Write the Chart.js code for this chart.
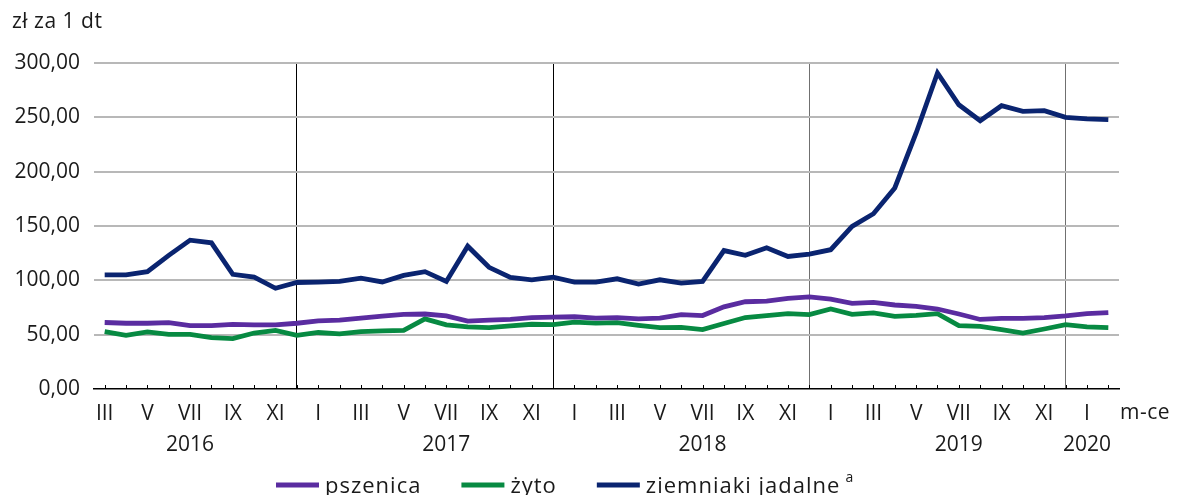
<!DOCTYPE html>
<html>
<head>
<meta charset="utf-8">
<script src="https://cdn.jsdelivr.net/npm/chart.js@4.4.1/dist/chart.umd.min.js"></script>
<style>
  body { margin: 0; background: #fff; }
  #wrap { width: 1178px; height: 495px; position: relative; }
</style>
</head>
<body>
<div id="wrap"><canvas id="myLineChart"></canvas></div>
<script>
// months III 2016 - II 2020, only odd months are labelled
var monthLabels = [
  'III','','V','','VII','','IX','','XI','',
  'I','','III','','V','','VII','','IX','','XI','',
  'I','','III','','V','','VII','','IX','','XI','',
  'I','','III','','V','','VII','','IX','','XI','',
  'I',''
];
var yearLabels = ['2016','2017','2018','2019','2020'];
var yearAt = [4, 16, 28, 40, 46];

var seriesNames = ['pszenica', 'żyto', 'ziemniaki jadalne'];
var footnoteMark = 'a';

var pszenica = [
  61.2, 60.5, 60.5, 61, 58.4, 58.4, 59.4, 59, 59, 60.5,
  62.7, 63.3, 65.2, 67, 68.6, 69, 67.3, 62.4, 63.3, 64, 65.6, 66.2,
  66.5, 65.2, 65.6, 64.6, 65.2, 68.4, 67.6, 75.6, 80.3, 80.9, 83.4, 84.7,
  82.8, 78.8, 79.7, 77.3, 76, 73.6, 69, 64, 65, 65, 65.6, 67.2,
  69.3, 70.2
];
var zyto = [
  52.8, 49.4, 52.5, 50.3, 50.3, 47.2, 46.3, 51.5, 54, 49.4,
  52, 50.8, 52.8, 53.4, 54, 64.5, 59, 57.1, 56.5, 58, 59.6, 59.3,
  61.5, 60.6, 61, 58.6, 56.5, 56.8, 54.6, 60.3, 65.8, 67.6, 69.3, 68.4,
  73.6, 68.7, 70, 66.8, 67.8, 69.3, 58.3, 57.6, 54.6, 51.5, 55.2, 59.2,
  57.1, 56.5
];
var ziemniaki = [
  105, 105, 108, 123, 137, 134.5, 105.5, 103, 92.7, 98,
  98.3, 99, 102, 98.5, 104.5, 108, 99, 131.4, 112, 102.6, 100.5, 103,
  98.3, 98.3, 101.4, 96.5, 100.5, 97.4, 99, 127.4, 123, 130, 122, 124.2,
  128.2, 149.7, 161.3, 185, 235.6, 290.8, 261.6, 246.9, 260.7, 255.5, 256.1, 250,
  248.5, 247.8
];

var colors = ['#5a2ca0', '#078a42', '#0a2470'];
var fontFamily = "'Open Sans', 'Noto Sans', sans-serif";
var fontSize = 21;

var labels = monthLabels.map(function (m, i) {
  var k = yearAt.indexOf(i);
  return k >= 0 ? [m, yearLabels[k]] : m;
});

var extras = {
  id: 'extras',
  afterDraw: function (chart) {
    var ctx = chart.ctx;
    var x = chart.scales.x;
    var area = chart.chartArea;
    ctx.save();
    // small tick marks on the axis, pointing up
    ctx.strokeStyle = '#000';
    ctx.lineWidth = 1;
    for (var i = 0; i < monthLabels.length; i++) {
      var px = Math.round(x.getPixelForValue(i)) + 0.5;
      ctx.beginPath();
      ctx.moveTo(px, area.bottom - 4);
      ctx.lineTo(px, area.bottom);
      ctx.stroke();
    }
    ctx.fillStyle = '#1a1a1a';
    ctx.textBaseline = 'middle';
    ctx.textAlign = 'left';
    ctx.font = fontSize + 'px ' + fontFamily;
    ctx.letterSpacing = '0.5px';
    ctx.fillText('zł za 1 dt', 12, 22);
    ctx.fillText('m-ce', 1120, 413);

    // legend
    var lx = 276, ly = 485;
    chart.data.datasets.forEach(function (ds, j) {
      ctx.fillStyle = ds.borderColor;
      ctx.fillRect(lx, ly - 2.5, 43, 5);
      lx += 49;
      ctx.fillStyle = '#1a1a1a';
      ctx.font = '22px ' + fontFamily;
      ctx.letterSpacing = '1px';
      ctx.fillText(ds.label, lx, ly + 2);
      lx += ctx.measureText(ds.label).width;
      if (j === 2) {
        ctx.font = '14px ' + fontFamily;
        ctx.letterSpacing = '0px';
        ctx.fillText(footnoteMark, lx + 5, ly - 7);
      }
      lx += 40;
    });
    ctx.restore();
  }
};

var ctx2 = document.getElementById('myLineChart');

var myLineChart = new Chart(ctx2, {
  type: 'line',
  data: {
    labels: labels,
    datasets: [
      { label: seriesNames[0], data: pszenica, borderColor: colors[0] },
      { label: seriesNames[1], data: zyto, borderColor: colors[1] },
      { label: seriesNames[2], data: ziemniaki, borderColor: colors[2] }
    ]
  },
  plugins: [extras],
  options: {
    responsive: true,
    maintainAspectRatio: false,
    animation: false,
    events: [],
    layout: { padding: { left: 0, right: 59, top: 63, bottom: 26 } },
    elements: {
      line: { borderWidth: 4.8, tension: 0, fill: false },
      point: { radius: 0 }
    },
    plugins: {
      legend: { display: false },
      tooltip: { enabled: false }
    },
    scales: {
      x: {
        offset: true,
        afterFit: function (s) { s.height = 80; },
        border: { display: true, color: '#000', width: 1.5 },
        grid: {
          offset: false,
          drawTicks: false,
          lineWidth: 1,
          color: function (c) {
            if (c.index === 9 || c.index === 21) return '#000';
            if (c.index === 33 || c.index === 45) return '#707070';
            return 'rgba(0,0,0,0)';
          }
        },
        ticks: {
          autoSkip: false,
          maxRotation: 0,
          padding: 9,
          color: '#1a1a1a',
          font: { family: fontFamily, size: fontSize, lineHeight: 1.48 }
        }
      },
      y: {
        min: 0,
        max: 300,
        afterFit: function (s) { s.width = 94; },
        border: { display: false },
        grid: {
          drawTicks: false,
          lineWidth: 2,
          color: function (c) { return c.tick.value === 0 ? 'rgba(0,0,0,0)' : '#b8b8b8'; }
        },
        ticks: {
          stepSize: 50,
          padding: 14,
          color: '#1a1a1a',
          font: { family: fontFamily, size: fontSize },
          callback: function (v) { return v.toFixed(2).replace('.', ','); }
        }
      }
    }
  }
});
</script>
</body>
</html>
